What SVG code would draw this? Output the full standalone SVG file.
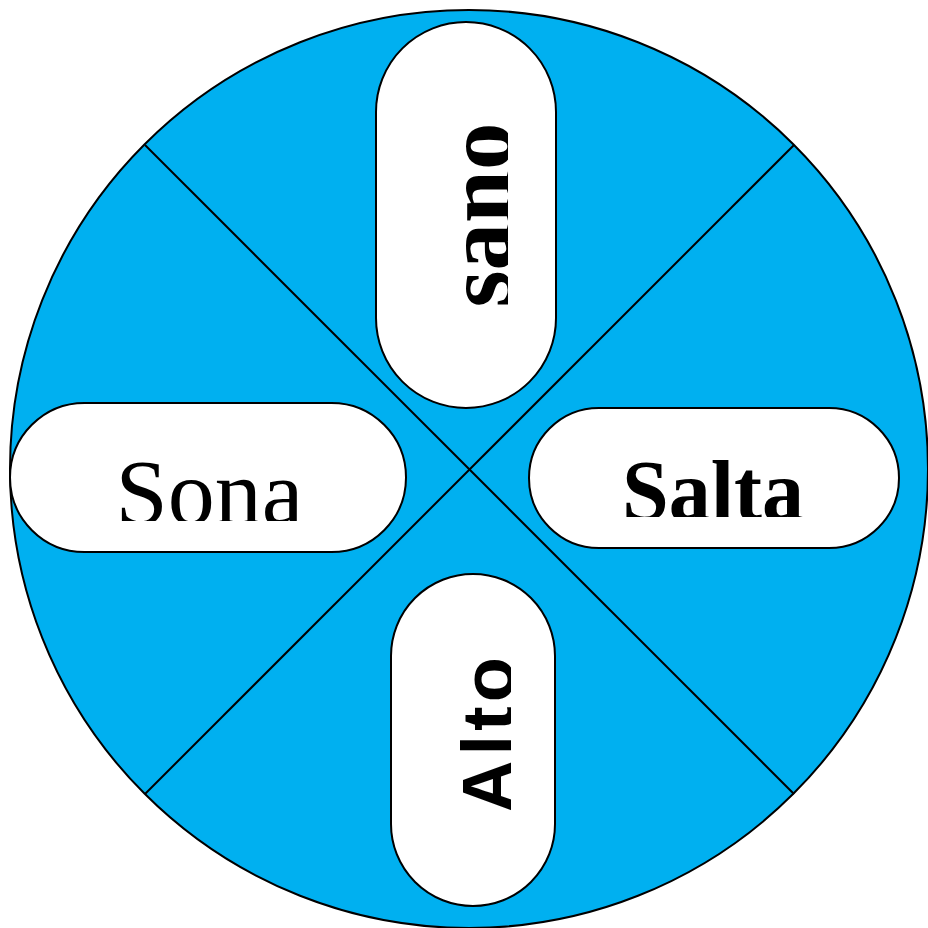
<svg xmlns="http://www.w3.org/2000/svg" width="928" height="928" viewBox="0 0 928 928">
<style>
.pill{fill:#ffffff;stroke:#000000;stroke-width:2}
.spoke{stroke:#000000;stroke-width:2;fill:none}
.serif{font-family:"Liberation Serif","Times New Roman",serif;fill:#000000}
.sans{font-family:"Liberation Sans",Arial,sans-serif;fill:#000000}
</style>
<defs>
<clipPath id="clipSano"><rect x="370" y="20" width="138" height="390"/></clipPath>
<clipPath id="clipSona"><rect x="0" y="400" width="410" height="121"/></clipPath>
<clipPath id="clipSalta"><rect x="525" y="400" width="380" height="117"/></clipPath>
<clipPath id="clipAlto"><rect x="385" y="570" width="126" height="340"/></clipPath>
</defs>
<rect width="928" height="928" fill="#ffffff"/>
<g id="wheel">
<circle cx="469" cy="469" r="459" fill="#00B0F0" stroke="#000000" stroke-width="2"/>
</g>
<g id="connectors">
<line class="spoke" x1="145" y1="145" x2="794" y2="794"/>
<line class="spoke" x1="794" y1="145" x2="145" y2="794"/>
</g>
<g id="node-sano">
<rect class="pill" x="376" y="22" width="180" height="386" rx="90" ry="90"/>
<g clip-path="url(#clipSano)">
<text class="serif" font-weight="bold" font-size="95" text-anchor="middle" transform="translate(511,215) rotate(-90)">sano</text>
</g>
</g>
<g id="node-sona">
<rect class="pill" x="10" y="403" width="396" height="149" rx="74.5" ry="74.5"/>
<g clip-path="url(#clipSona)">
<text class="serif" font-size="94" text-anchor="middle" x="209.5" y="524">Sona</text>
</g>
</g>
<g id="node-salta">
<rect class="pill" x="529" y="408" width="370" height="140" rx="70" ry="70"/>
<g clip-path="url(#clipSalta)">
<text class="serif" font-weight="bold" font-size="86" text-anchor="middle" textLength="182" lengthAdjust="spacingAndGlyphs" x="713" y="520">Salta</text>
</g>
</g>
<g id="node-alto">
<rect class="pill" x="391" y="574" width="164" height="332" rx="82" ry="82"/>
<g clip-path="url(#clipAlto)">
<text class="sans" font-weight="bold" font-size="74" text-anchor="middle" textLength="156" lengthAdjust="spacing" transform="translate(514,735) rotate(-90)">Alto</text>
</g>
</g>
</svg>
